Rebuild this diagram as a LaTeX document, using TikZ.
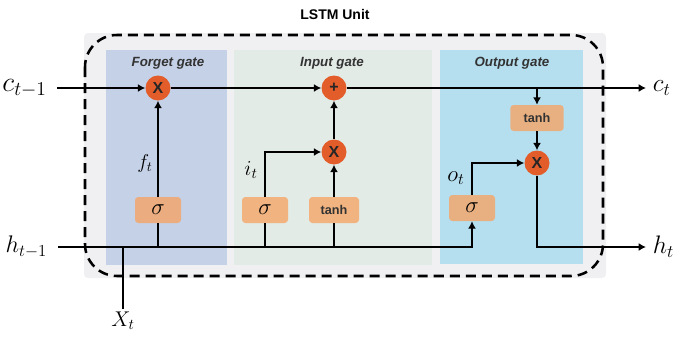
\RequirePackage{fix-cm}
\documentclass[tikz,border=0pt]{standalone}
\usepackage{fontspec}
\setsansfont{Liberation Sans}
\usepackage{xcolor}
\usetikzlibrary{arrows.meta,positioning,calc}

\definecolor{unitgray}{HTML}{F0F0F3}
\definecolor{forgetblue}{HTML}{C5D1E7}
\definecolor{inputgreen}{HTML}{E3EBE7}
\definecolor{outputcyan}{HTML}{B5DFEF}
\definecolor{opred}{HTML}{E35D2B}
\definecolor{actorange}{HTML}{F5A565}
\definecolor{labelgray}{HTML}{333333}

\begin{document}
\begin{tikzpicture}[
  x=0.75pt,y=-0.75pt,
  every node/.style={inner sep=0pt},
  gatetitle/.style={font=\sffamily\bfseries\itshape\fontsize{10}{12}\selectfont,text=labelgray},
  opcircle/.style={circle,fill=opred,minimum size=18.75pt,font=\sffamily\bfseries\fontsize{12}{12}\selectfont,text=black!85},
  actbox/.style={rounded corners=2.5pt,fill=actorange,fill opacity=0.8,text opacity=1,minimum width=34.5pt,minimum height=19.5pt,font=\fontsize{17}{17}\selectfont},
  tanhbox/.style={actbox,minimum width=37.5pt,font=\sffamily\bfseries\fontsize{9.5}{10}\selectfont,text=labelgray},
  mathlabel/.style={font=\fontsize{21}{24}\selectfont},
  outlabel/.style={font=\fontsize{19}{22}\selectfont,anchor=west,inner xsep=5pt},
  sublabel/.style={font=\fontsize{15}{18}\selectfont},
  arrow/.style={-{Latex[length=5.5pt,width=6pt]},line width=1.5pt},
  wire/.style={line width=1.5pt}
]
\useasboundingbox (0,0) rectangle (676,339);

% unit background and gate panels
\fill[unitgray,rounded corners=3pt] (84,33) rectangle (606,278);
\fill[forgetblue] (106,50) rectangle (227,265);
\fill[inputgreen] (234,50) rectangle (432,265);
\fill[outputcyan] (440,50) rectangle (583,264);

\node[font=\sffamily\bfseries\fontsize{10.5}{12}\selectfont] (title) at (335,14) {LSTM Unit};
\node[gatetitle] (forgettitle) at (168,63) {Forget gate};
\node[gatetitle] (inputtitle) at (332,63) {Input gate};
\node[gatetitle] (outputtitle) at (512,63) {Output gate};

% operations
\node[opcircle] (fmul) at (158,88) {X};
\node[opcircle] (add) at (334,88) {+};
\node[opcircle] (imul) at (334,152) {X};
\node[opcircle] (omul) at (537,163) {X};

% activations
\node[actbox] (fsig) at (158,210) {$\sigma$};
\node[actbox] (isig) at (265,210) {$\sigma$};
\node[tanhbox] (itanh) at (334,210) {tanh};
\node[actbox] (osig) at (472,208) {$\sigma$};
\node[tanhbox,minimum width=40pt] (otanh) at (537,118) {tanh};

% inputs and outputs
\node[mathlabel,anchor=east,inner xsep=7.5pt] (cin) at (57,88) {$c_{t-1}$};
\node[outlabel] (cout) at (646,88) {$c_t$};
\node[font=\fontsize{18}{20}\selectfont,anchor=east,inner xsep=8pt] (hin) at (58,247) {$h_{t-1}$};
\node[outlabel] (hout) at (646,247) {$h_t$};
\node[font=\fontsize{16}{18}\selectfont,anchor=north,inner ysep=2pt] (xin) at (123,309) {$X_t$};

\node[sublabel] (flabel) at (145,163) {$f_t$};
\node[font=\fontsize{16}{18}\selectfont] (ilabel) at (251,170) {$i_t$};
\node[font=\fontsize{17}{18}\selectfont] (olabel) at (456,178) {$o_t$};

% cell state
\draw[arrow] (cin) -- (fmul);
\draw[arrow] (fmul) -- (add);
\draw[arrow] (add) -- (cout);
% gates
\draw[arrow] (fsig) -- (fmul);
\draw[arrow] (isig) |- (imul);
\draw[arrow] (itanh) -- (imul);
\draw[arrow] (imul) -- (add);
\coordinate (ctap) at (otanh |- add);
\draw[arrow] (ctap) -- (otanh);
\draw[arrow] (otanh) -- (omul);
\draw[arrow] (osig) |- (omul);
\draw[arrow] (omul) |- (hout);
% hidden state
\draw[arrow] (hin) -| (osig);
\draw[wire] (fsig) -- (fsig |- hin);
\draw[wire] (isig) -- (isig |- hin);
\draw[wire] (itanh) -- (itanh |- hin);
\draw[wire] (xin) -- (xin |- hin);

\draw[dash pattern=on 7.5pt off 4.5pt,line width=1.9pt,rounded corners=24pt] (85,35) rectangle (603,276);
\end{tikzpicture}
\end{document}
